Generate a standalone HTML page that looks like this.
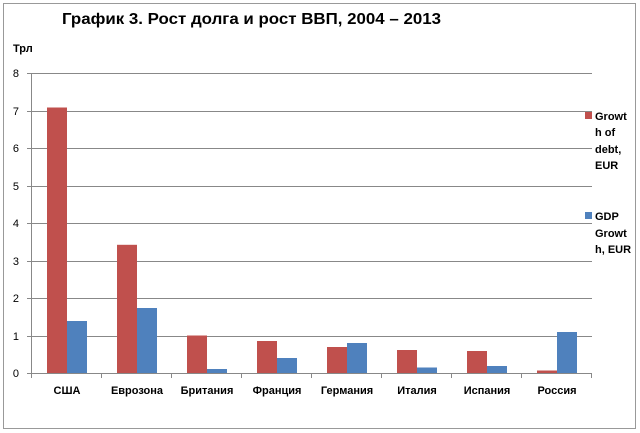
<!DOCTYPE html><html><head><meta charset="utf-8"><style>
body{margin:0;background:#fff;}
svg{display:block;font-family:"Liberation Sans","DejaVu Sans",sans-serif;}
</style></head><body>
<svg width="640" height="433" xmlns="http://www.w3.org/2000/svg">
<rect x="3.5" y="3.5" width="632" height="425" fill="#fff" stroke="#999"/>
<text x="62" y="24" font-size="16" font-weight="bold" fill="#000" textLength="379" lengthAdjust="spacingAndGlyphs">График 3. Рост долга и рост ВВП, 2004 – 2013</text>
<text x="13" y="52" font-size="11" font-weight="bold">Трл</text>
<g stroke="#888" stroke-width="1">
<line x1="27" y1="73.5" x2="592" y2="73.5"/><line x1="27" y1="111.5" x2="592" y2="111.5"/>
<line x1="27" y1="148.5" x2="592" y2="148.5"/><line x1="27" y1="186.5" x2="592" y2="186.5"/>
<line x1="27" y1="223.5" x2="592" y2="223.5"/><line x1="27" y1="261.5" x2="592" y2="261.5"/>
<line x1="27" y1="298.5" x2="592" y2="298.5"/><line x1="27" y1="336.5" x2="592" y2="336.5"/>
<line x1="27" y1="373.5" x2="592" y2="373.5"/>
<line x1="31.5" y1="73" x2="31.5" y2="378"/>
<line x1="101.5" y1="373" x2="101.5" y2="378"/><line x1="171.5" y1="373" x2="171.5" y2="378"/>
<line x1="241.5" y1="373" x2="241.5" y2="378"/><line x1="311.5" y1="373" x2="311.5" y2="378"/>
<line x1="381.5" y1="373" x2="381.5" y2="378"/><line x1="451.5" y1="373" x2="451.5" y2="378"/>
<line x1="521.5" y1="373" x2="521.5" y2="378"/><line x1="591.5" y1="373" x2="591.5" y2="378"/>
</g>
<g font-size="11" text-anchor="end">
<text x="19" y="77">8</text><text x="19" y="115">7</text><text x="19" y="152">6</text><text x="19" y="190">5</text><text x="19" y="227">4</text><text x="19" y="265">3</text><text x="19" y="302">2</text><text x="19" y="340">1</text><text x="19" y="377">0</text>
</g>
<g fill="#c0504d">
<rect x="47" y="107.5" width="20" height="265.5"/>
<rect x="117" y="244.8" width="20" height="128.2"/>
<rect x="187" y="335.5" width="20" height="37.5"/>
<rect x="257" y="341" width="20" height="32"/>
<rect x="327" y="347" width="20" height="26"/>
<rect x="397" y="350" width="20" height="23"/>
<rect x="467" y="351" width="20" height="22"/>
<rect x="537" y="370.5" width="20" height="2.5"/>
</g>
<g fill="#4f81bd">
<rect x="67" y="321" width="20" height="52"/>
<rect x="137" y="308" width="20" height="65"/>
<rect x="207" y="369" width="20" height="4"/>
<rect x="277" y="358" width="20" height="15"/>
<rect x="347" y="343" width="20" height="30"/>
<rect x="417" y="367.5" width="20" height="5.5"/>
<rect x="487" y="366" width="20" height="7"/>
<rect x="557" y="332" width="20" height="41"/>
</g>
<g font-size="11" font-weight="bold" text-anchor="middle">
<text x="67" y="394">США</text><text x="137" y="394">Еврозона</text><text x="207" y="394">Британия</text><text x="277" y="394">Франция</text><text x="347" y="394">Германия</text><text x="417" y="394">Италия</text><text x="487" y="394">Испания</text><text x="557" y="394">Россия</text>
</g>
<rect x="585" y="112" width="7" height="7" fill="#c0504d"/>
<rect x="585" y="212" width="7" height="7" fill="#4f81bd"/>
<g font-size="11" font-weight="bold">
<text x="595" y="120">Growt</text><text x="595" y="136">h of</text><text x="595" y="153">debt,</text><text x="595" y="169">EUR</text>
<text x="595" y="220">GDP</text><text x="595" y="237">Growt</text><text x="595" y="253">h, EUR</text>
</g>
</svg></body></html>
